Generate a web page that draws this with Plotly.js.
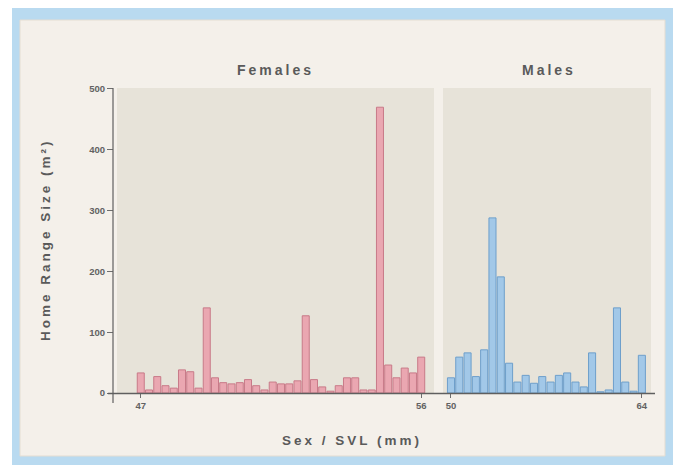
<!DOCTYPE html>
<html>
<head>
<meta charset="utf-8">
<script src="https://cdn.plot.ly/plotly-3.0.1.min.js"></script>
<style>
  html, body { margin: 0; padding: 0; background: #ffffff; }
  #chart { width: 676px; height: 465px; }
  .annotation-text { letter-spacing: 3px; }
</style>
</head>
<body>
<div id="chart"></div>
<script>
// Home range size (m²) per individual, ordered by SVL
const femaleValues = [33, 5, 27, 12, 8, 38, 35, 8, 140, 25, 17, 15, 17, 22, 12, 5, 18, 15, 15, 20,
                      127, 22, 10, 3, 12, 25, 25, 5, 5, 470, 46, 25, 41, 33, 59];
const maleValues = [25, 59, 66, 27, 71, 288, 191, 49, 18, 29, 16, 27, 18, 29, 33, 18, 10, 66, 2, 5,
                    140, 18, 3, 62];
const femaleIds = femaleValues.map((_, i) => 'F' + (i + 1));
const maleIds = maleValues.map((_, i) => 'M' + (i + 1));
const femaleTickLabels = ['47', '56'];
const maleTickLabels = ['50', '64'];
const yTicks = [0, 100, 200, 300, 400, 500];
const panelTitles = ['Females', 'Males'];

const W = 676, H = 465;
const px = v => v / W;
const py = v => (H - v) / H;

const textColor = '#626262';
const axisColor = '#6e6e6e';

const traces = [
  {
    type: 'bar', x: femaleIds, y: femaleValues, xaxis: 'x', yaxis: 'y',
    marker: { color: '#eaa7b1', line: { color: '#c87a88', width: 1 } },
    hoverinfo: 'y', showlegend: false
  },
  {
    type: 'bar', x: maleIds, y: maleValues, xaxis: 'x2', yaxis: 'y',
    marker: { color: '#a2c8e8', line: { color: '#6e9fcb', width: 1 } },
    hoverinfo: 'y', showlegend: false
  }
];

const tickFont = { family: 'Liberation Sans, Arial, sans-serif', size: 9.5, color: textColor, weight: 'bold' };
const titleFont = { family: 'Liberation Sans, Arial, sans-serif', size: 13.5, color: '#5a5a5a', weight: 'bold' };

const layout = {
  width: W, height: H,
  margin: { l: 0, r: 0, t: 0, b: 0 },
  paper_bgcolor: '#ffffff',
  plot_bgcolor: 'rgba(0,0,0,0)',
  bargap: 0.15,
  xaxis: {
    domain: [px(117), px(434)], anchor: 'y', type: 'category',
    range: [-2.88, 35.55],
    tickvals: [femaleIds[0], femaleIds[femaleIds.length - 1]],
    ticktext: femaleTickLabels,
    ticks: 'outside', ticklen: 4, tickcolor: axisColor, tickfont: tickFont,
    showgrid: false, zeroline: false, showline: false, fixedrange: true
  },
  xaxis2: {
    domain: [px(443), px(651)], anchor: 'y', type: 'category',
    range: [-0.96, 24.1],
    tickvals: [maleIds[0], maleIds[maleIds.length - 1]],
    ticktext: maleTickLabels,
    ticks: 'outside', ticklen: 4, tickcolor: axisColor, tickfont: tickFont,
    showgrid: false, zeroline: false, showline: false, fixedrange: true
  },
  yaxis: {
    domain: [py(393), py(88)], anchor: 'free', position: px(113),
    range: [0, 501.6], tickvals: yTicks, ticktext: yTicks.map(String),
    ticks: 'outside', ticklen: 6, tickcolor: axisColor, tickfont: tickFont,
    showgrid: false, zeroline: false, showline: false, fixedrange: true
  },
  shapes: [
    { type: 'rect', xref: 'paper', yref: 'paper', x0: px(12), x1: px(673), y0: py(466), y1: py(8),
      fillcolor: '#b9daf0', line: { width: 0 }, layer: 'below' },
    { type: 'rect', xref: 'paper', yref: 'paper', x0: px(20), x1: px(665), y0: py(456), y1: py(20),
      fillcolor: '#f4f0ea', line: { color: '#e4ddd2', width: 1 }, layer: 'below' },
    { type: 'rect', xref: 'x domain', yref: 'y domain', x0: 0, x1: 1, y0: 0, y1: 1,
      fillcolor: '#e7e3d9', line: { width: 0 }, layer: 'below' },
    { type: 'rect', xref: 'x2 domain', yref: 'y domain', x0: 0, x1: 1, y0: 0, y1: 1,
      fillcolor: '#e7e3d9', line: { width: 0 }, layer: 'below' },
    { type: 'line', xref: 'paper', yref: 'paper', x0: px(108), x1: px(655), y0: py(393.5), y1: py(393.5),
      line: { color: '#5f5f5f', width: 1.5 } },
    { type: 'line', xref: 'paper', yref: 'paper', x0: px(113), x1: px(113), y0: py(88), y1: py(403),
      line: { color: '#5f5f5f', width: 1.2 } }
  ],
  annotations: [
    { text: panelTitles[0], xref: 'paper', yref: 'paper', x: px(275), y: py(70),
      xanchor: 'center', yanchor: 'middle', showarrow: false,
      font: { family: 'Liberation Sans, Arial, sans-serif', size: 14, color: '#5a5a5a', weight: 'bold' } },
    { text: panelTitles[1], xref: 'paper', yref: 'paper', x: px(549), y: py(70),
      xanchor: 'center', yanchor: 'middle', showarrow: false,
      font: { family: 'Liberation Sans, Arial, sans-serif', size: 14, color: '#5a5a5a', weight: 'bold' } },
    { text: 'Sex / SVL (mm)', xref: 'paper', yref: 'paper', x: px(352), y: py(440),
      xanchor: 'center', yanchor: 'middle', showarrow: false, font: titleFont },
    { text: 'Home Range Size (m²)', xref: 'paper', yref: 'paper', x: px(45), y: py(240), textangle: -90,
      xanchor: 'center', yanchor: 'middle', showarrow: false, font: titleFont }
  ]
};

Plotly.newPlot('chart', traces, layout, { displayModeBar: false, staticPlot: true });
</script>
</body>
</html>
